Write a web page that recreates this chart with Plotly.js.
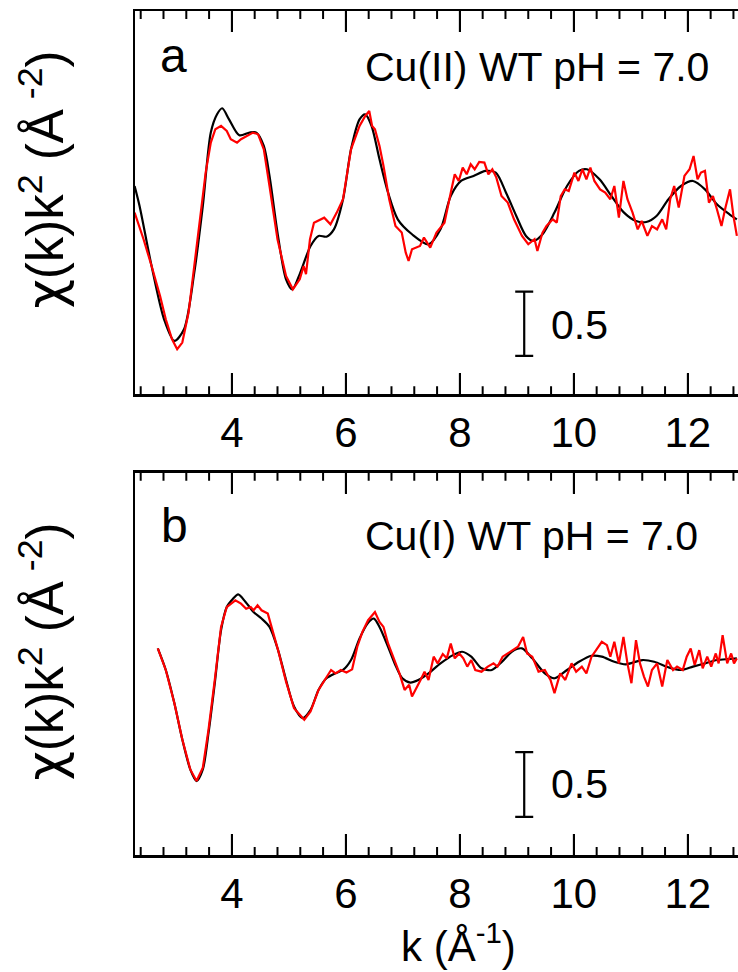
<!DOCTYPE html>
<html><head><meta charset="utf-8">
<script src="https://cdn.plot.ly/plotly-3.0.1.min.js"></script>
<style>html,body{margin:0;padding:0;overflow:hidden;background:#fff}</style>
</head><body><div id="chart" style="width:750px;height:972px"></div>
<script>
// Panel a: Cu(II) WT pH 7.0  -- [k, chi(k)k^2]
const fitA = [[2.293,0.22],[2.38,0.065],[2.59,-0.40],[2.81,-0.816],[2.99,-0.984],[3.16,-0.894],[3.34,-0.453],[3.49,0.065],[3.63,0.635],[3.74,0.777],[3.83,0.824],[3.95,0.738],[4.13,0.614],[4.31,0.635],[4.43,0.635],[4.56,0.531],[4.66,0.298],[4.80,-0.142],[4.95,-0.505],[5.06,-0.583],[5.20,-0.453],[5.38,-0.246],[5.52,-0.168],[5.66,-0.174],[5.79,-0.117],[5.95,0.117],[6.09,0.505],[6.24,0.738],[6.34,0.777],[6.45,0.687],[6.59,0.427],[6.74,0.168],[6.91,-0.039],[7.16,-0.155],[7.45,-0.233],[7.66,-0.117],[7.84,0.142],[8.02,0.259],[8.24,0.298],[8.45,0.337],[8.63,0.324],[8.81,0.168],[8.99,-0.013],[9.16,-0.168],[9.29,-0.207],[9.45,-0.155],[9.66,0.013],[9.88,0.22],[10.09,0.337],[10.23,0.350],[10.45,0.272],[10.66,0.142],[10.88,0.013],[11.09,-0.052],[11.27,-0.060],[11.45,-0.013],[11.66,0.117],[11.88,0.22],[12.09,0.259],[12.30,0.194],[12.51,0.078],[12.73,0],[12.86,-0.039]];
const dataA = [[2.293,0.013],[2.45,-0.194],[2.59,-0.40],[2.74,-0.635],[2.84,-0.816],[2.95,-0.971],[3.04,-1.049],[3.13,-0.997],[3.24,-0.764],[3.34,-0.40],[3.45,0.039],[3.54,0.324],[3.63,0.557],[3.71,0.661],[3.81,0.687],[3.91,0.648],[3.98,0.583],[4.09,0.557],[4.16,0.583],[4.26,0.609],[4.37,0.635],[4.46,0.622],[4.56,0.505],[4.66,0.220],[4.80,-0.194],[4.95,-0.479],[5.07,-0.583],[5.19,-0.505],[5.26,-0.402],[5.30,-0.466],[5.37,-0.194],[5.44,-0.065],[5.55,-0.039],[5.62,-0.026],[5.73,-0.078],[5.84,0.013],[5.95,0.117],[6.09,0.505],[6.24,0.687],[6.34,0.764],[6.41,0.803],[6.46,0.687],[6.51,0.661],[6.59,0.531],[6.66,0.376],[6.76,0.117],[6.87,-0.091],[6.98,-0.142],[7.05,-0.298],[7.10,-0.363],[7.16,-0.272],[7.30,-0.246],[7.37,-0.181],[7.48,-0.259],[7.59,-0.142],[7.73,-0.065],[7.84,0.168],[7.91,0.311],[7.98,0.259],[8.05,0.363],[8.12,0.311],[8.19,0.389],[8.26,0.350],[8.34,0.407],[8.43,0.402],[8.50,0.311],[8.57,0.350],[8.64,0.285],[8.73,0.142],[8.84,0.091],[8.95,-0.039],[9.09,-0.168],[9.20,-0.233],[9.31,-0.194],[9.36,-0.285],[9.45,-0.142],[9.52,-0.091],[9.63,-0.039],[9.70,-0.065],[9.77,0.142],[9.84,0.194],[9.91,0.181],[10.01,0.324],[10.08,0.259],[10.15,0.350],[10.22,0.272],[10.29,0.363],[10.36,0.259],[10.46,0.194],[10.55,0.168],[10.64,0.117],[10.71,0.220],[10.79,-0.026],[10.87,0.259],[10.94,0.117],[11.03,0.013],[11.12,-0.117],[11.19,-0.052],[11.29,-0.168],[11.37,-0.091],[11.46,-0.117],[11.55,-0.039],[11.62,-0.117],[11.69,0.117],[11.76,0.220],[11.84,0.052],[11.94,0.298],[12.03,0.350],[12.10,0.453],[12.17,0.272],[12.23,0.324],[12.30,0.337],[12.37,0.091],[12.44,0.142],[12.51,0.039],[12.59,-0.091],[12.66,0.052],[12.74,0.194],[12.80,-0.013],[12.86,-0.168]];

// Panel b: Cu(I) WT pH 7.0
const fitB = [[2.70,0.090],[2.84,-0.077],[2.99,-0.333],[3.13,-0.615],[3.27,-0.846],[3.38,-0.936],[3.49,-0.846],[3.59,-0.564],[3.70,-0.179],[3.81,0.231],[3.91,0.410],[4.02,0.474],[4.11,0.508],[4.24,0.449],[4.38,0.372],[4.52,0.321],[4.66,0.256],[4.81,0.077],[4.95,-0.154],[5.09,-0.359],[5.24,-0.449],[5.38,-0.385],[5.52,-0.231],[5.66,-0.141],[5.81,-0.103],[5.95,-0.077],[6.09,0],[6.24,0.167],[6.38,0.282],[6.49,0.321],[6.59,0.256],[6.74,0.103],[6.88,-0.051],[6.99,-0.141],[7.13,-0.174],[7.27,-0.154],[7.45,-0.103],[7.66,-0.026],[7.88,0.038],[8.04,0.064],[8.20,0.026],[8.38,-0.064],[8.56,-0.077],[8.74,-0.013],[8.91,0.064],[9.09,0.090],[9.27,0.013],[9.49,-0.103],[9.66,-0.141],[9.88,-0.077],[10.09,-0.013],[10.31,0.033],[10.49,0.026],[10.71,-0.013],[10.91,-0.033],[11.20,0],[11.41,-0.013],[11.66,-0.056],[11.88,-0.077],[12.09,-0.051],[12.30,-0.026],[12.51,0],[12.73,0.008],[12.86,0.013]];
const dataB = [[2.70,0.090],[2.84,-0.077],[2.99,-0.333],[3.13,-0.615],[3.27,-0.846],[3.38,-0.936],[3.49,-0.833],[3.59,-0.538],[3.70,-0.154],[3.81,0.256],[3.91,0.410],[4.06,0.462],[4.16,0.436],[4.25,0.397],[4.33,0.410],[4.38,0.385],[4.45,0.423],[4.52,0.385],[4.63,0.359],[4.70,0.256],[4.81,0.077],[4.95,-0.167],[5.09,-0.372],[5.27,-0.462],[5.38,-0.397],[5.52,-0.231],[5.66,-0.128],[5.74,-0.077],[5.82,-0.103],[5.91,-0.077],[6.01,-0.097],[6.11,-0.072],[6.20,0.103],[6.29,0.218],[6.39,0.308],[6.51,0.372],[6.59,0.295],[6.66,0.256],[6.74,0.128],[6.84,0.013],[6.94,-0.103],[7.03,-0.231],[7.11,-0.192],[7.16,-0.282],[7.24,-0.218],[7.31,-0.154],[7.38,-0.090],[7.45,-0.154],[7.54,0.026],[7.61,-0.026],[7.70,0.046],[7.77,0.013],[7.84,0.128],[7.91,0.013],[7.99,0.051],[8.06,0.013],[8.13,-0.051],[8.20,0],[8.27,-0.077],[8.38,-0.090],[8.49,-0.051],[8.59,-0.026],[8.66,-0.051],[8.75,0.026],[8.84,0.051],[8.94,0.077],[9.02,0.103],[9.11,0.179],[9.18,0.051],[9.27,0.026],[9.38,-0.090],[9.49,-0.077],[9.59,-0.154],[9.66,-0.256],[9.76,-0.103],[9.85,-0.154],[9.96,-0.026],[10.04,-0.090],[10.14,-0.051],[10.22,-0.103],[10.31,0.026],[10.39,0.077],[10.49,0.141],[10.58,0.115],[10.64,0.026],[10.71,0.141],[10.79,-0.026],[10.87,0.179],[10.94,-0.026],[11.01,-0.179],[11.09,0.154],[11.16,-0.026],[11.23,-0.128],[11.30,-0.205],[11.37,-0.077],[11.46,-0.026],[11.55,-0.205],[11.64,0],[11.74,-0.077],[11.81,-0.051],[11.91,-0.077],[11.98,0.026],[12.05,0.090],[12.12,-0.038],[12.20,0.077],[12.26,-0.064],[12.34,0.026],[12.41,-0.051],[12.49,0.051],[12.54,-0.026],[12.61,0.192],[12.69,-0.026],[12.76,0.051],[12.81,-0.026],[12.86,0.013]];

// Scale bars: [k, low, high]
const scaleBarA = [9.129, -1.101, -0.601];
const scaleBarB = [9.129, -1.213, -0.713];
const scaleLabel = '0.5';
const panelLetters = ['a', 'b'];
const panelTitles = ['Cu(II) WT pH = 7.0', 'Cu(I) WT pH = 7.0'];
const majorTicks = [4, 6, 8, 10, 12];
const minorStep = 0.4;
const yTitle = '<span style="font-family:DejaVu Sans">χ</span>(k)k<sup>2</sup> (Å<sup> -2</sup>)';
const xTitle = 'k (Å<sup>-1</sup>)';

const FONT = 'Liberation Sans, Arial, Helvetica, sans-serif';
const col = (arr, i) => arr.map(p => p[i]);

const W = 750, H = 972, L = 135.3, R = 8.2, T = 11, B = 117;
const plotW = W - L - R, plotH = H - T - B;
const px = v => (v - L) / plotW;
const py = v => (H - B - v) / plotH;

const KRANGE = [2.30, 12.95];
const YRANGE_A = [-1.399, 1.580], YDOM_A = [py(394.3), 1];
const YRANGE_B = [-1.508, 1.449], YDOM_B = [0, py(472.7)];

function curve(pts, color, xa, ya, smooth) {
  return {x: col(pts,0), y: col(pts,1), xaxis: xa, yaxis: ya, type: 'scatter', mode: 'lines',
    line: {color: color, width: 2.2, shape: smooth ? 'spline' : 'linear', smoothing: 0.8},
    hoverinfo: 'skip', showlegend: false};
}
function scaleBar(sb, xa, ya) {
  return {x: [sb[0]], y: [(sb[1]+sb[2])/2], xaxis: xa, yaxis: ya, type: 'scatter', mode: 'markers',
    marker: {size: 1, opacity: 0}, showlegend: false, hoverinfo: 'skip',
    error_y: {type: 'data', array: [(sb[2]-sb[1])/2], visible: true, width: 9, thickness: 2.2, color: '#000'}};
}

// axis tick marks built from the tick arrays, as a line trace on each panel (bottom + top edge)
const minorTicks = [];
for (let t = Math.ceil(KRANGE[0] / minorStep) * minorStep; t <= KRANGE[1]; t += minorStep) {
  const v = Math.round(t * 10) / 10;
  if (!majorTicks.some(m => Math.abs(m - v) < 1e-6)) minorTicks.push(v);
}
function tickTrace(xa, ya, yr, ydom) {
  const upp = (yr[1] - yr[0]) / ((ydom[1] - ydom[0]) * plotH);
  const xs = [], ys = [];
  [[majorTicks, 21], [minorTicks, 8]].forEach(([vals, len]) => {
    vals.forEach(v => {
      xs.push(v, v, null, v, v, null);
      ys.push(yr[0], yr[0] + len * upp, null, yr[1], yr[1] - len * upp, null);
    });
  });
  return {x: xs, y: ys, xaxis: xa, yaxis: ya, type: 'scatter', mode: 'lines',
    line: {color: '#000', width: 2}, showlegend: false, hoverinfo: 'skip'};
}

const traces = [
  tickTrace('x', 'y', YRANGE_A, YDOM_A),
  tickTrace('x2', 'y2', YRANGE_B, YDOM_B),
  curve(fitA, '#000000', 'x', 'y', true),
  curve(dataA, '#ff0000', 'x', 'y', false),
  curve(fitB, '#000000', 'x2', 'y2', true),
  curve(dataB, '#ff0000', 'x2', 'y2', false),
  scaleBar(scaleBarA, 'x', 'y'),
  scaleBar(scaleBarB, 'x2', 'y2')
];

const xaxisBase = {
  range: KRANGE, showline: true, linewidth: 2.5, linecolor: '#000', mirror: 'ticks',
  tickmode: 'array', tickvals: majorTicks, ticktext: majorTicks.map(String),
  ticks: 'inside', ticklen: 21, tickwidth: 2, tickcolor: '#000',
  showgrid: false, zeroline: false, tickfont: {family: FONT, size: 42, color: '#000'}
};
const yaxisBase = {showline: true, linewidth: 2.5, linecolor: '#000', mirror: true, ticks: '',
  showticklabels: false, showgrid: false, zeroline: false};

const ann = [];
function txt(o) { ann.push(Object.assign({showarrow: false, xanchor: 'center', yanchor: 'middle', font: {family: FONT, size: 41, color: '#000'}}, o)); }
txt({text: panelLetters[0], x: 2.968, y: 1.238, xref: 'x', yref: 'y', font: {family: FONT, size: 48, color: '#000'}});
txt({text: panelLetters[1], x: 3.0, y: 1.038, xref: 'x2', yref: 'y2', font: {family: FONT, size: 48, color: '#000'}});
txt({text: panelTitles[0], x: 6.307, y: 1.148, xref: 'x', yref: 'y', xanchor: 'left'});
txt({text: panelTitles[1], x: 6.307, y: 0.962, xref: 'x2', yref: 'y2', xanchor: 'left'});
txt({text: scaleLabel, x: 9.557, y: -0.862, xref: 'x', yref: 'y', xanchor: 'left'});
txt({text: scaleLabel, x: 9.557, y: -0.962, xref: 'x2', yref: 'y2', xanchor: 'left'});
txt({text: yTitle, x: px(42), y: py(180), xref: 'paper', yref: 'paper', textangle: -90, font: {family: FONT, size: 51, color: '#000'}});
txt({text: yTitle, x: px(42), y: py(652), xref: 'paper', yref: 'paper', textangle: -90, font: {family: FONT, size: 51, color: '#000'}});
txt({text: xTitle, x: px(459), y: py(943), xref: 'paper', yref: 'paper', font: {family: FONT, size: 42, color: '#000'}});

const layout = {
  width: W, height: H, margin: {l: L, r: R, t: T, b: B}, paper_bgcolor: '#fff', plot_bgcolor: '#fff',
  font: {family: FONT, color: '#000'},
  xaxis: Object.assign({}, xaxisBase, {anchor: 'y'}),
  xaxis2: Object.assign({}, xaxisBase, {anchor: 'y2'}),
  yaxis: Object.assign({}, yaxisBase, {domain: YDOM_A, range: YRANGE_A, anchor: 'x'}),
  yaxis2: Object.assign({}, yaxisBase, {domain: YDOM_B, range: YRANGE_B, anchor: 'x2'}),
  annotations: ann, showlegend: false
};
Plotly.newPlot('chart', traces, layout, {staticPlot: true, displayModeBar: false});
</script></body></html>
